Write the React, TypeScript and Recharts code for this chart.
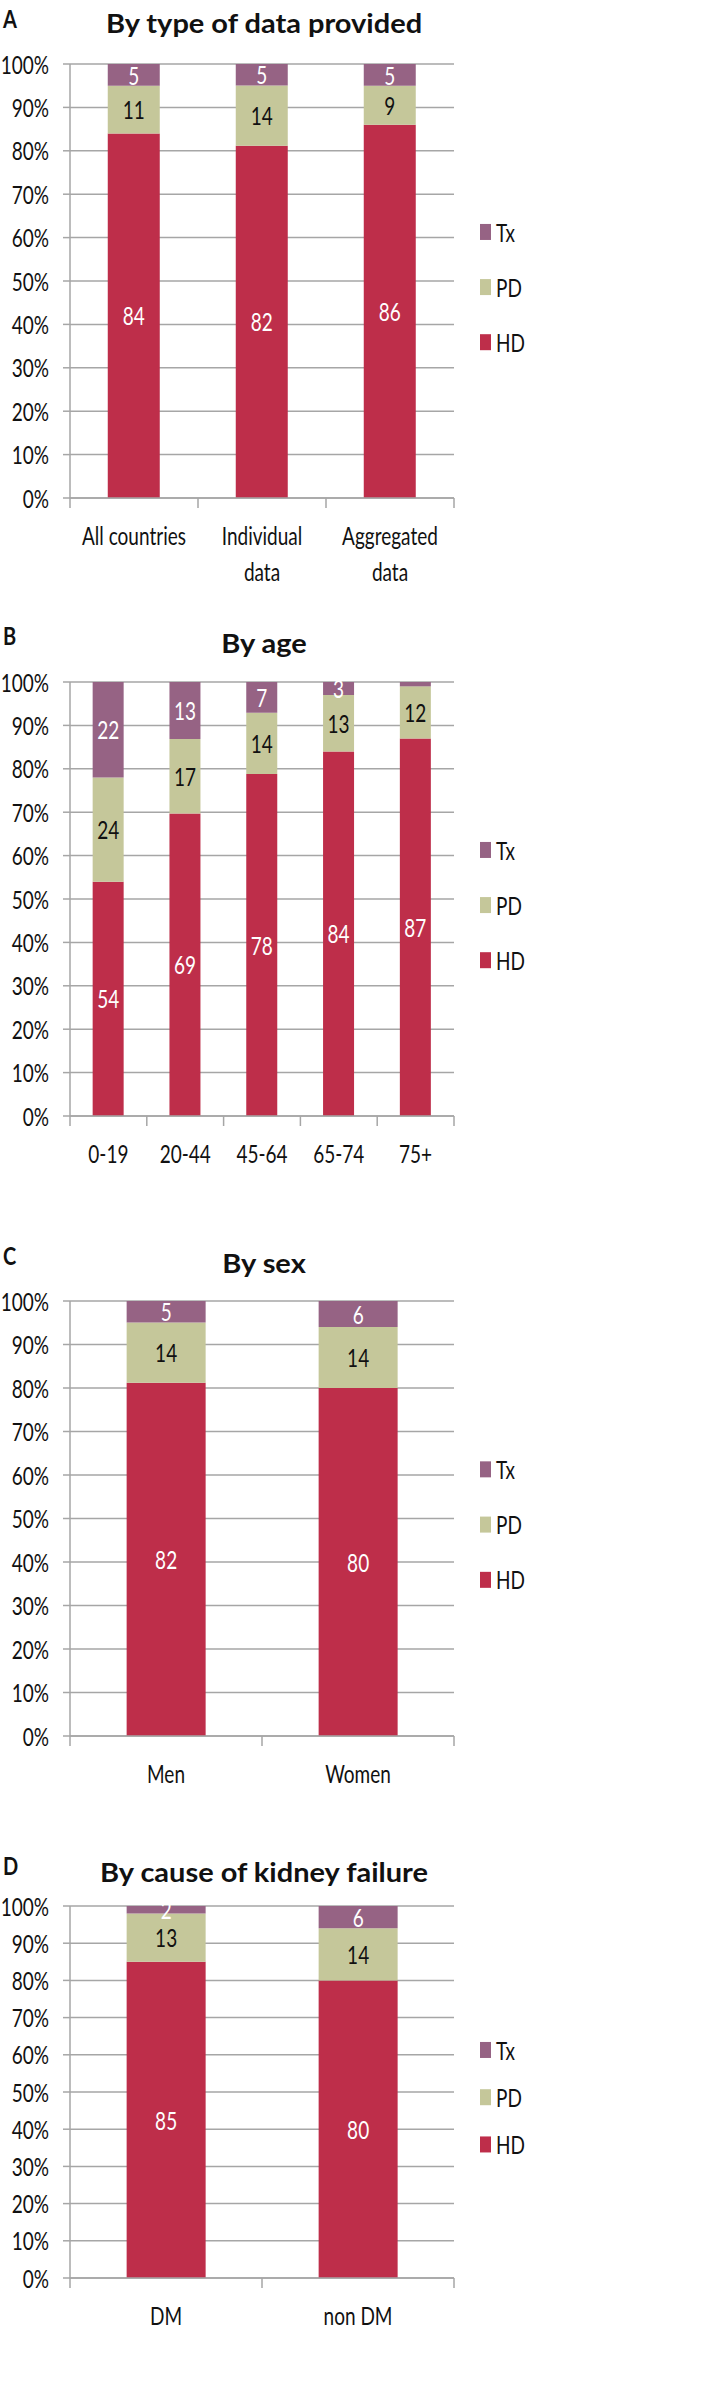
import React from "react";
import { Bar, BarChart, CartesianGrid, LabelList, XAxis, YAxis } from "recharts";

const FONT = "Lato, 'Open Sans', sans-serif";
const STRETCH = 1.35;
const GRID = "#a6a6a6";

const seriesKeys = ["HD", "PD", "Tx"];
const legendOrder = ["Tx", "PD", "HD"];
const seriesColors: Record<string, string> = { HD: "#be2e4a", PD: "#c5c79a", Tx: "#966384" };
const labelColors: Record<string, string> = { HD: "#ffffff", PD: "#111111", Tx: "#ffffff" };

const yTicks = [0, 10, 20, 30, 40, 50, 60, 70, 80, 90, 100];

const typeCategories = ["All countries", "Individual\ndata", "Aggregated\ndata"];
const typeHD = [84, 82, 86];
const typePD = [11, 14, 9];
const typeTx = [5, 5, 5];

const ageCategories = ["0-19", "20-44", "45-64", "65-74", "75+"];
const ageHD = [54, 69, 78, 84, 87];
const agePD = [24, 17, 14, 13, 12];
const ageTx = [22, 13, 7, 3, 1];

const sexCategories = ["Men", "Women"];
const sexHD = [82, 80];
const sexPD = [14, 14];
const sexTx = [5, 6];

const causeCategories = ["DM", "non DM"];
const causeHD = [85, 80];
const causePD = [13, 14];
const causeTx = [2, 6];

function SText({ x, y, children, size = 19, anchor = "middle", fill = "#111", weight = 400, baseline = "central", sy = STRETCH }: any) {
  return (
    <text
      transform={`translate(${x},${y}) scale(1,${sy})`}
      textAnchor={anchor}
      dominantBaseline={baseline}
      fontFamily={FONT}
      fontSize={size}
      fontWeight={weight}
      fill={fill}
    >
      {children}
    </text>
  );
}

const buildRows = (names: string[], hd: number[], pd: number[], tx: number[]) =>
  names.map((name, i) => ({ name, HD: hd[i], PD: pd[i], Tx: tx[i] }));

const PLOT_LEFT = 70;
const PLOT_RIGHT = 454;

function Panel({ top, height, letter, title, letterBase, titleBase, plotTop, plotHeight, rows }: any) {
  const n = rows.length;
  const bw = (PLOT_RIGHT - PLOT_LEFT) / n;

  const xTick = ({ x, y, payload, index }: any) => {
    const i = payload?.index ?? index;
    const lines = String(payload.value).split("\n");
    return (
      <g>
        <line x1={x - bw / 2} y1={y} x2={x - bw / 2} y2={y + 10} stroke={GRID} strokeWidth={1.5} />
        {i === n - 1 && <line x1={x + bw / 2} y1={y} x2={x + bw / 2} y2={y + 10} stroke={GRID} strokeWidth={1.5} />}
        {lines.map((l, k) => (
          <SText key={k} x={x} y={y + 37 + k * 36}>{l}</SText>
        ))}
      </g>
    );
  };

  const yTick = ({ x, y, payload }: any) => (
    <SText x={x} y={y} anchor="end">{Math.round(payload.value * 100)}%</SText>
  );

  const barLabel = (key: string) => (props: any) => {
    const vb = props.viewBox ?? props;
    const { x, y, width, height: h } = vb;
    const v = props.value;
    if (v == null || v < 2) return null;
    return (
      <SText x={x + width / 2} y={y + h / 2} fill={labelColors[key]}>{v}</SText>
    );
  };

  return (
    <div style={{ position: "absolute", left: 0, top, width: 707, height }}>
      <div style={{ position: "absolute", left: 0, top: plotTop - 20 }}>
        <BarChart
          width={707}
          height={20 + plotHeight + 90}
          data={rows}
          stackOffset="expand"
          barCategoryGap="29.5%"
          margin={{ top: 20, right: 707 - PLOT_RIGHT, bottom: 0, left: 0 }}
        >
          <CartesianGrid vertical={false} stroke={GRID} strokeWidth={1.5} />
          <XAxis
            dataKey="name"
            height={90}
            tickSize={0}
            tickMargin={0}
            tickLine={false}
            axisLine={{ stroke: GRID, strokeWidth: 1.5 }}
            tick={xTick}
            interval={0}
          />
          <YAxis
            width={70}
            type="number"
            domain={[0, 1]}
            ticks={yTicks.map((t) => t / 100)}
            tickSize={7}
            tickMargin={14}
            tickLine={{ stroke: GRID, strokeWidth: 1.5 }}
            axisLine={{ stroke: GRID, strokeWidth: 1.5 }}
            tick={yTick}
            interval={0}
          />
          {seriesKeys.map((key) => (
            <Bar key={key} dataKey={key} stackId="s" fill={seriesColors[key]} isAnimationActive={false}>
              <LabelList dataKey={key} content={barLabel(key)} />
            </Bar>
          ))}
        </BarChart>
      </div>
      <svg width={707} height={height} style={{ position: "absolute", left: 0, top: 0, pointerEvents: "none" }}>
        <SText x={3} y={letterBase} anchor="start" baseline="alphabetic" size={20} weight={700} sy={1.25}>{letter}</SText>
        <SText x={264} y={titleBase} baseline="alphabetic" size={29} weight={700} sy={0.95}>{title}</SText>
        {legendOrder.map((key, i) => {
          const cy = plotTop + plotHeight * (0.387 + 0.127 * i);
          return (
            <g key={key}>
              <rect x={480} y={cy - 8} width={11} height={16} fill={seriesColors[key]} />
              <SText x={496} y={cy} anchor="start">{key}</SText>
            </g>
          );
        })}
      </svg>
    </div>
  );
}

export default function App() {
  return (
    <div style={{ position: "relative", width: 707, height: 2408, background: "#fff" }}>
      <style>{"body{margin:0}"}</style>
      <Panel
        top={0}
        height={600}
        letter="A"
        title="By type of data provided"
        letterBase={28}
        titleBase={33}
        plotTop={64}
        plotHeight={434}
        rows={buildRows(typeCategories, typeHD, typePD, typeTx)}
      />
      <Panel
        top={600}
        height={600}
        letter="B"
        title="By age"
        letterBase={45}
        titleBase={53}
        plotTop={82}
        plotHeight={434}
        rows={buildRows(ageCategories, ageHD, agePD, ageTx)}
      />
      <Panel
        top={1200}
        height={600}
        letter="C"
        title="By sex"
        letterBase={65}
        titleBase={73}
        plotTop={101}
        plotHeight={435}
        rows={buildRows(sexCategories, sexHD, sexPD, sexTx)}
      />
      <Panel
        top={1800}
        height={608}
        letter="D"
        title="By cause of kidney failure"
        letterBase={75}
        titleBase={82}
        plotTop={106}
        plotHeight={372}
        rows={buildRows(causeCategories, causeHD, causePD, causeTx)}
      />
    </div>
  );
}
